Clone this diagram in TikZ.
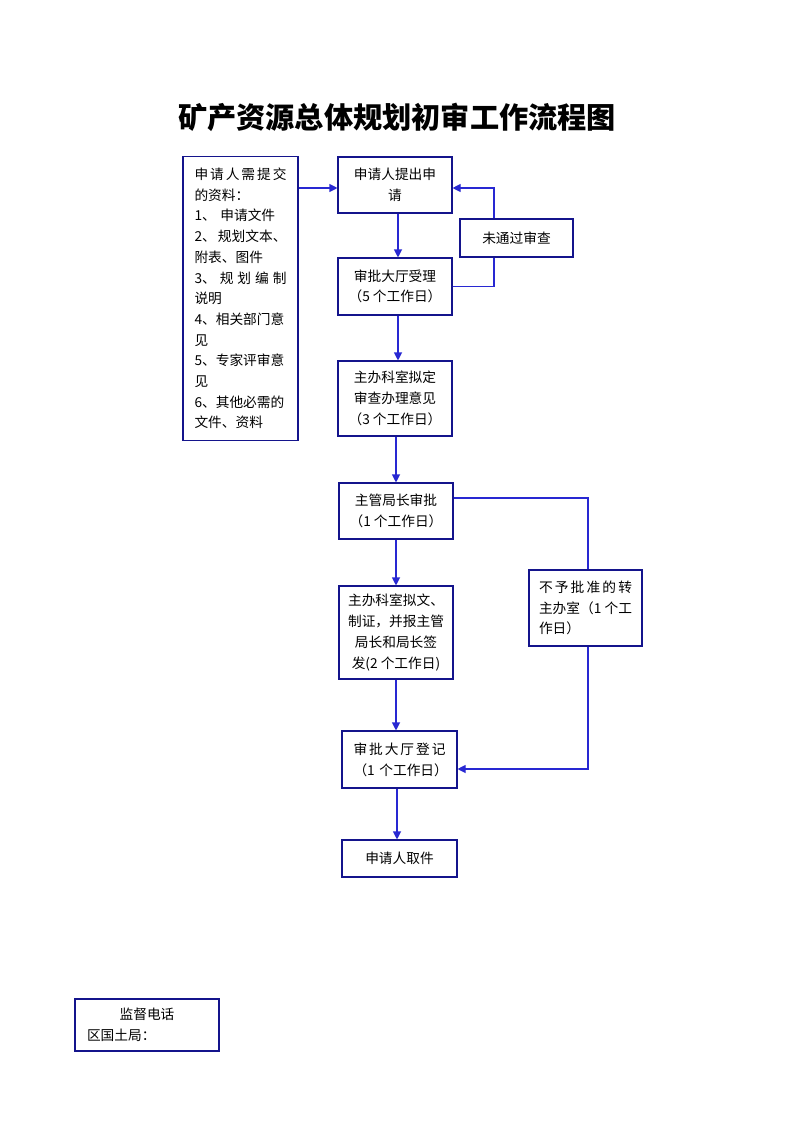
\documentclass[tikz,border=0pt]{standalone}
\usepackage{fontspec}
\setmainfont{Noto Sans CJK SC}
\usepackage{tikz}
\usetikzlibrary{arrows.meta,positioning,calc}
\definecolor{boxnavy}{HTML}{14148C}
\definecolor{flowblue}{HTML}{2828D2}
\newcommand{\spread}[1]{{\spaceskip=0pt plus 1fil\makebox[\hsize][s]{#1}}}
\tikzset{
  >={Triangle[length=8pt,width=8pt]},
  % kasten
  stepbox/.style={draw=boxnavy,line width=1.1pt,inner sep=0pt,align=center,
                  font=\fontsize{13.7}{20.7}\selectfont,text=black},
  flow/.style={draw=flowblue,line width=1.1pt},
  flowarr/.style={->,draw=flowblue,line width=1.1pt},
}
\begin{document}
\begin{tikzpicture}[x=1pt,y=-1pt]
  \useasboundingbox (0,0) rectangle (793,1122);
  \node[font=\fontsize{29.2}{34}\selectfont\bfseries] (title) at (397,117) {矿产资源总体规划初审工作流程图};
  % unterlagen
  \node[stepbox,minimum width=115,minimum height=284,text width=92pt,align=left] (mat) at (240.5,298.5)
    {\spread{申 请 人 需 提 交}\\的资料：\\1、 申请文件\\\spread{2、 规划文本、}\\附表、图件\\
     \spread{3、 规 划 编 制}\\说明\\\spread{4、相关部门意}\\见\\\spread{5、专家评审意}\\见\\
     \spread{6、其他必需的}\\文件、资料};
  % hauptkette
  \node[stepbox,minimum width=114,minimum height=56] (antrag) at (395,185) {申请人提出申\\请};
  \node[stepbox,minimum width=113,minimum height=38] (nf) at (516.5,238) {未通过审查};
  \node[stepbox,minimum width=114,minimum height=57] (annahme) at (395,286.5) {审批大厅受理\\（5~个工作日）};
  \node[stepbox,minimum width=114,minimum height=75] (stellung) at (395,398.5) {主办科室拟定\\审查办理意见\\（3~个工作日）};
  \node[stepbox,minimum width=114,minimum height=56] (chef) at (396,511) {主管局长审批\\（1~个工作日）};
  \node[stepbox,minimum width=114,minimum height=93] (entwurf) at (396,632.5)
    {主办科室拟文、\\制证，并报主管\\局长和局长签\\发(2~个工作日)};
  \node[stepbox,minimum width=113,minimum height=76,text width=93pt,align=left] (ablehn) at (585.5,608)
    {\spread{不 予 批 准 的 转}\\\spread{主办室（1 个工}\\作日）};
  \node[stepbox,minimum width=115,minimum height=57,text width=92pt] (register) at (399.5,759.5)
    {\spread{审 批 大 厅 登 记}\\（1~个工作日）};
  \node[stepbox,minimum width=115,minimum height=37] (abhol) at (399.5,858.5) {申请人取件};
  % aufsicht
  \node[stepbox,minimum width=144,minimum height=52,text width=120pt,align=left] (tel) at (147,1025)
    {\makebox[\hsize]{监督电话}\\区国土局：};
  % pfeile
  \coordinate (fx) at (494,0);
  \draw[flowarr] (mat.east |- 0,188) -- (antrag.west |- 0,188);
  \draw[flowarr] (antrag.south -| 398,0) -- (annahme.north -| 398,0);
  \draw[flowarr] (annahme.south -| 398,0) -- (stellung.north -| 398,0);
  \draw[flowarr] (stellung.south -| 396,0) -- (chef.north -| 396,0);
  \draw[flowarr] (chef.south -| 396,0) -- (entwurf.north -| 396,0);
  \draw[flowarr] (entwurf.south -| 396,0) -- (register.north -| 396,0);
  \draw[flowarr] (register.south -| 397,0) -- (abhol.north -| 397,0);
  \draw[flow] (annahme.east) -| (nf.south -| fx);
  \draw[flowarr] (nf.north -| fx) |- (antrag.east |- 0,188);
  \draw[flow] (chef.east |- 0,498) -| (ablehn.north -| 588,0);
  \draw[flowarr] (ablehn.south -| 588,0) |- (register.east |- 0,769);
\end{tikzpicture}
\end{document}
